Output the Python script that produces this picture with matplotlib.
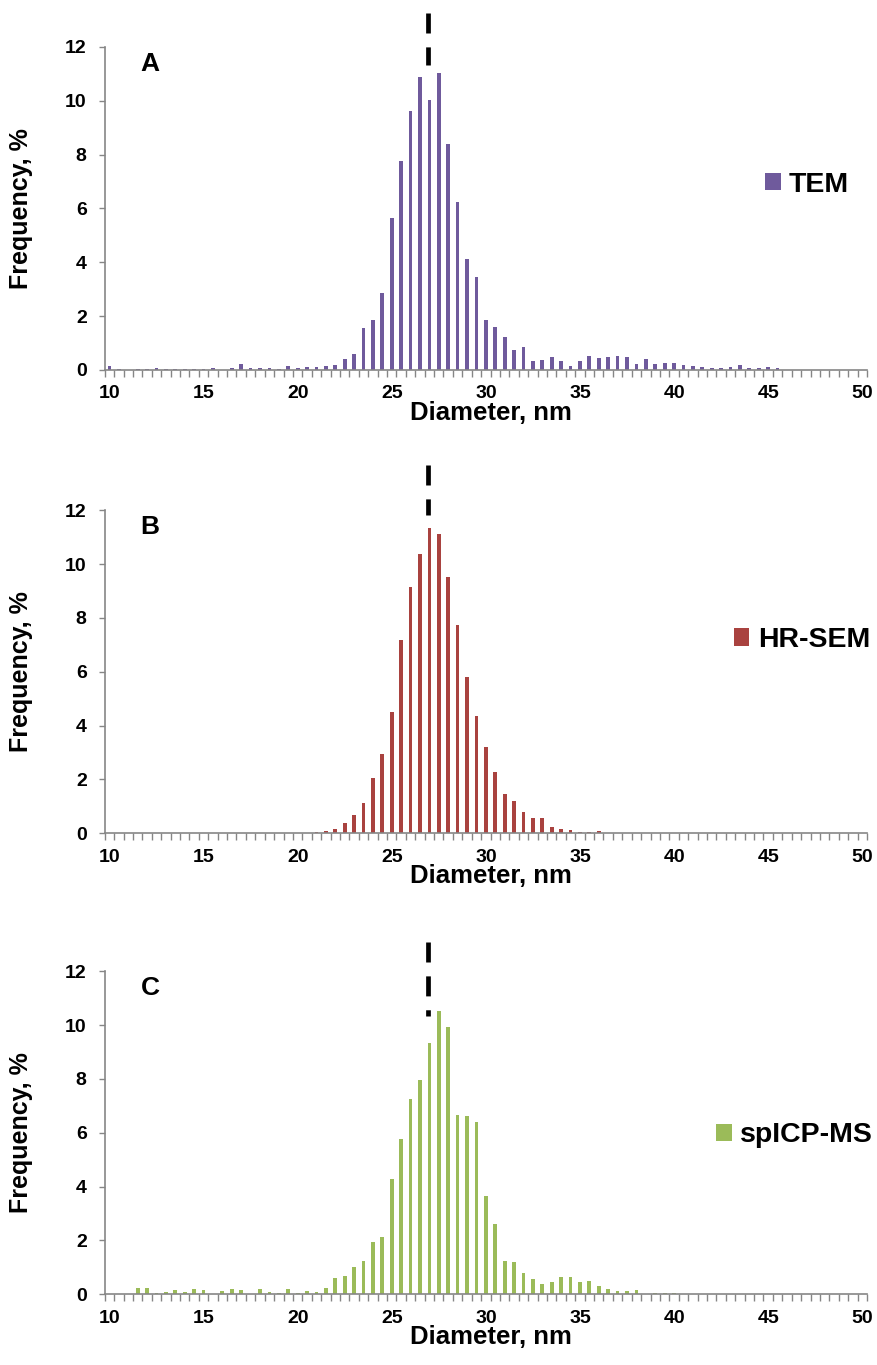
import numpy as np
import matplotlib
matplotlib.use("Agg")
import matplotlib.pyplot as plt

# ---- data ----
diameter = np.arange(10.0, 50.01, 0.5)   # category axis (nm), 0.5 nm bins
xtick_labels = [10, 15, 20, 25, 30, 35, 40, 45, 50]
yticks = [0, 2, 4, 6, 8, 10, 12]

tem = [0.14, 0.04, 0.00, 0.04, 0.04, 0.06, 0.04, 0.03, 0.03, 0.03,
       0.04, 0.06, 0.00, 0.06, 0.21, 0.07, 0.06, 0.07, 0.03, 0.14,
       0.07, 0.11, 0.11, 0.15, 0.17, 0.40, 0.59, 1.57, 1.87, 2.87,
       5.66, 7.78, 9.64, 10.88, 10.04, 11.03, 8.41, 6.25, 4.12, 3.45,
       1.86, 1.58, 1.22, 0.75, 0.84, 0.32, 0.38, 0.48, 0.33, 0.15,
       0.32, 0.53, 0.43, 0.48, 0.51, 0.48, 0.22, 0.40, 0.21, 0.25,
       0.25, 0.17, 0.15, 0.11, 0.07, 0.06, 0.11, 0.17, 0.07, 0.07,
       0.11, 0.06, 0, 0, 0, 0, 0, 0, 0, 0, 0]

hrsem = [0, 0, 0, 0, 0, 0, 0, 0, 0, 0,
         0, 0, 0, 0, 0, 0, 0, 0, 0, 0,
         0.00, 0.01, 0.05, 0.10, 0.17, 0.37, 0.68, 1.12, 2.04, 2.96,
         4.49, 7.17, 9.16, 10.38, 11.36, 11.11, 9.53, 7.75, 5.79, 4.35,
         3.21, 2.28, 1.46, 1.21, 0.79, 0.57, 0.57, 0.25, 0.16, 0.14,
         0.05, 0.05, 0.07, 0, 0, 0, 0, 0, 0, 0,
         0, 0, 0, 0, 0, 0, 0, 0, 0, 0,
         0, 0, 0, 0, 0, 0, 0, 0, 0, 0, 0]

spicpms = [0, 0, 0, 0.24, 0.22, 0.05, 0.07, 0.15, 0.07, 0.20,
           0.16, 0.01, 0.11, 0.19, 0.17, 0, 0.20, 0.07, 0.04, 0.20,
           0.05, 0.14, 0.09, 0.22, 0.61, 0.68, 1.00, 1.24, 1.95, 2.12,
           4.28, 5.77, 7.26, 7.96, 9.34, 10.53, 9.94, 6.65, 6.63, 6.39,
           3.64, 2.61, 1.23, 1.20, 0.79, 0.55, 0.40, 0.46, 0.64, 0.64,
           0.46, 0.48, 0.32, 0.19, 0.11, 0.12, 0.15, 0.01, 0.05, 0.05,
           0.05, 0.01, 0, 0.02, 0, 0.01, 0.01, 0, 0, 0,
           0, 0, 0, 0, 0, 0, 0, 0, 0, 0, 0]

series_names = ["TEM", "HR-SEM", "spICP-MS"]
panel_letters = ["A", "B", "C"]
series_values = [tem, hrsem, spicpms]
colors = ["#6f5a9c", "#a9423f", "#9bbb59"]
# mean-diameter marker (dashed line): x position, top and bottom (in % units)
mean_x = [26.95, 26.9, 26.95]
mean_top = [13.28, 13.7, 13.1]
mean_bottom = [11.34, 11.81, 10.35]

# ---- figure ----
W, H = 878, 1365
fig = plt.figure(figsize=(W / 100, H / 100), dpi=100)
FONT = "Liberation Sans"
grey = "#868686"

ax_left = 104.7 / W
ax_w = (867 - 104.7) / W
bottoms_px = [370, 833.3, 1294.3]
ax_h = 323 / H
legend_anchor = [(0.866, 0.573), (0.825, 0.598), (0.802, 0.492)]

for i in range(3):
    ax = fig.add_axes([ax_left, 1 - bottoms_px[i] / H, ax_w, ax_h])
    ax.bar(diameter, series_values[i], width=0.2, color=colors[i],
           label=series_names[i], zorder=2)
    ax.set_xlim(9.75, 50.25)
    ax.set_ylim(0, 12)
    for s in ["top", "right"]:
        ax.spines[s].set_visible(False)
    for s in ["left", "bottom"]:
        ax.spines[s].set_color(grey)
        ax.spines[s].set_linewidth(1.2)
    ax.set_xticks(xtick_labels)
    ax.set_xticklabels([str(v) for v in xtick_labels])
    ax.set_xticks(np.arange(9.75, 50.26, 0.5), minor=True)
    ax.tick_params(axis="x", which="major", length=0, pad=11)
    ax.tick_params(axis="x", which="minor", length=5, width=1.0, color=grey)
    ax.set_yticks(yticks)
    ax.set_yticklabels([str(v) for v in yticks])
    ax.tick_params(axis="y", which="major", length=4, width=1.0, color=grey, pad=9)
    for lab in ax.get_xticklabels() + ax.get_yticklabels():
        lab.set_fontfamily(FONT)
        lab.set_fontweight("bold")
        lab.set_fontsize(14)
    ax.set_xlabel("Diameter, nm", fontfamily=FONT, fontweight="bold", fontsize=18.5)
    ax.xaxis.set_label_coords(0.507, -0.095)
    ax.set_ylabel("Frequency, %", fontfamily=FONT, fontweight="bold", fontsize=18)
    ax.yaxis.set_label_coords(-0.094, 0.5)
    ax.text(0.047, 0.985, panel_letters[i], transform=ax.transAxes,
            fontfamily=FONT, fontweight="bold", fontsize=19, ha="left", va="top")
    lw = 3.4
    ax.plot([mean_x[i], mean_x[i]], [mean_top[i], mean_bottom[i]], color="black",
            lw=lw, linestyle=(0, (14.4 / lw, 10.0 / lw)), clip_on=False, zorder=3,
            dash_capstyle="butt")
    leg = ax.legend(loc="center left", bbox_to_anchor=legend_anchor[i], frameon=False,
                    borderpad=0, borderaxespad=0, handlelength=0.55, handleheight=0.55,
                    handletextpad=0.3,
                    prop={"family": FONT, "weight": "bold", "size": 20.5})

fig.savefig("out.png", dpi=100)
